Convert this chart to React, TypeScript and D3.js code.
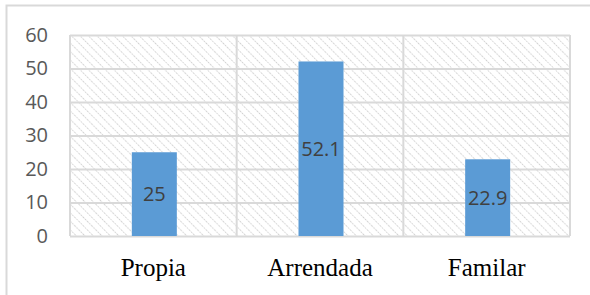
import React, { useEffect, useRef } from 'react';
import * as d3 from 'd3';

const categories = ['Propia', 'Arrendada', 'Familar'];
const values = [25, 52.1, 22.9];
const yTicks = [0, 10, 20, 30, 40, 50, 60];

export default function App() {
  const ref = useRef<SVGSVGElement>(null);

  useEffect(() => {
    const svg = d3.select(ref.current);
    svg.selectAll('*').remove();

    const W = 590, H = 295;
    const margin = { top: 35, right: 20, bottom: 59, left: 70 };
    const width = W - margin.left - margin.right;
    const height = H - margin.top - margin.bottom;

    // outer chart frame (right/bottom edges fall off the page)
    svg.append('rect')
      .attr('x', 6.5).attr('y', 5.5)
      .attr('width', W + 10).attr('height', H + 10)
      .attr('fill', '#fff').attr('stroke', '#d9d9d9').attr('stroke-width', 2);

    const defs = svg.append('defs');
    const pat = defs.append('pattern')
      .attr('id', 'hatch')
      .attr('patternUnits', 'userSpaceOnUse')
      .attr('width', 6).attr('height', 6)
      .attr('patternTransform', 'rotate(-45)');
    pat.append('line')
      .attr('x1', 0).attr('y1', 0).attr('x2', 0).attr('y2', 6)
      .attr('stroke', '#d0d0d0').attr('stroke-width', 2)
      .attr('stroke-dasharray', '1.5 1.2');

    const g = svg.append('g').attr('transform', `translate(${margin.left},${margin.top})`);

    const x = d3.scaleBand().domain(categories).range([0, width]).paddingInner(0).paddingOuter(0);
    const y = d3.scaleLinear().domain([0, 60]).range([height, 0]);

    g.append('rect')
      .attr('width', width).attr('height', height)
      .attr('fill', 'url(#hatch)');

    // horizontal gridlines
    g.append('g')
      .call(d3.axisLeft(y).tickValues(yTicks).tickSize(-width).tickFormat(() => ''))
      .call(s => s.select('.domain').remove())
      .selectAll('line').attr('stroke', '#d9d9d9').attr('stroke-width', 2);

    // vertical gridlines at category boundaries
    const bounds = [0, ...categories.map(c => (x(c) as number) + x.bandwidth())];
    g.selectAll('.vgrid')
      .data(bounds)
      .enter().append('line')
      .attr('x1', d => d).attr('x2', d => d)
      .attr('y1', 0).attr('y2', height)
      .attr('stroke', '#d9d9d9').attr('stroke-width', 2);

    // y axis labels
    g.append('g')
      .call(d3.axisLeft(y).tickValues(yTicks).tickSize(0).tickPadding(22))
      .call(s => s.select('.domain').remove())
      .selectAll('text')
      .style('font-family', '"Open Sans", sans-serif')
      .style('font-size', '20px')
      .attr('fill', '#595959');

    const bw = 45;
    g.selectAll('.bar')
      .data(values)
      .enter().append('rect')
      .attr('x', (d, i) => (x(categories[i]) as number) + x.bandwidth() / 2 - bw / 2 + 1)
      .attr('y', d => y(d))
      .attr('width', bw)
      .attr('height', d => height - y(d))
      .attr('fill', '#5b9bd5');

    g.selectAll('.lbl')
      .data(values)
      .enter().append('text')
      .attr('x', (d, i) => (x(categories[i]) as number) + x.bandwidth() / 2 + 1)
      .attr('y', d => (y(d) + height) / 2)
      .attr('dy', '0.36em')
      .attr('text-anchor', 'middle')
      .style('font-family', '"Open Sans", sans-serif')
      .style('font-size', '20px')
      .attr('fill', '#404040')
      .text(d => String(d));

    // category labels
    g.append('g')
      .attr('transform', `translate(0,${height})`)
      .call(d3.axisBottom(x).tickSize(0).tickPadding(22))
      .call(s => s.select('.domain').remove())
      .selectAll('text')
      .style('font-family', '"Liberation Serif", "Times New Roman", serif')
      .style('font-size', '25px')
      .attr('fill', '#000');
  }, []);

  return (
    <svg ref={ref} width={590} height={295}
      style={{ position: 'absolute', left: 0, top: 0, display: 'block' }} />
  );
}
